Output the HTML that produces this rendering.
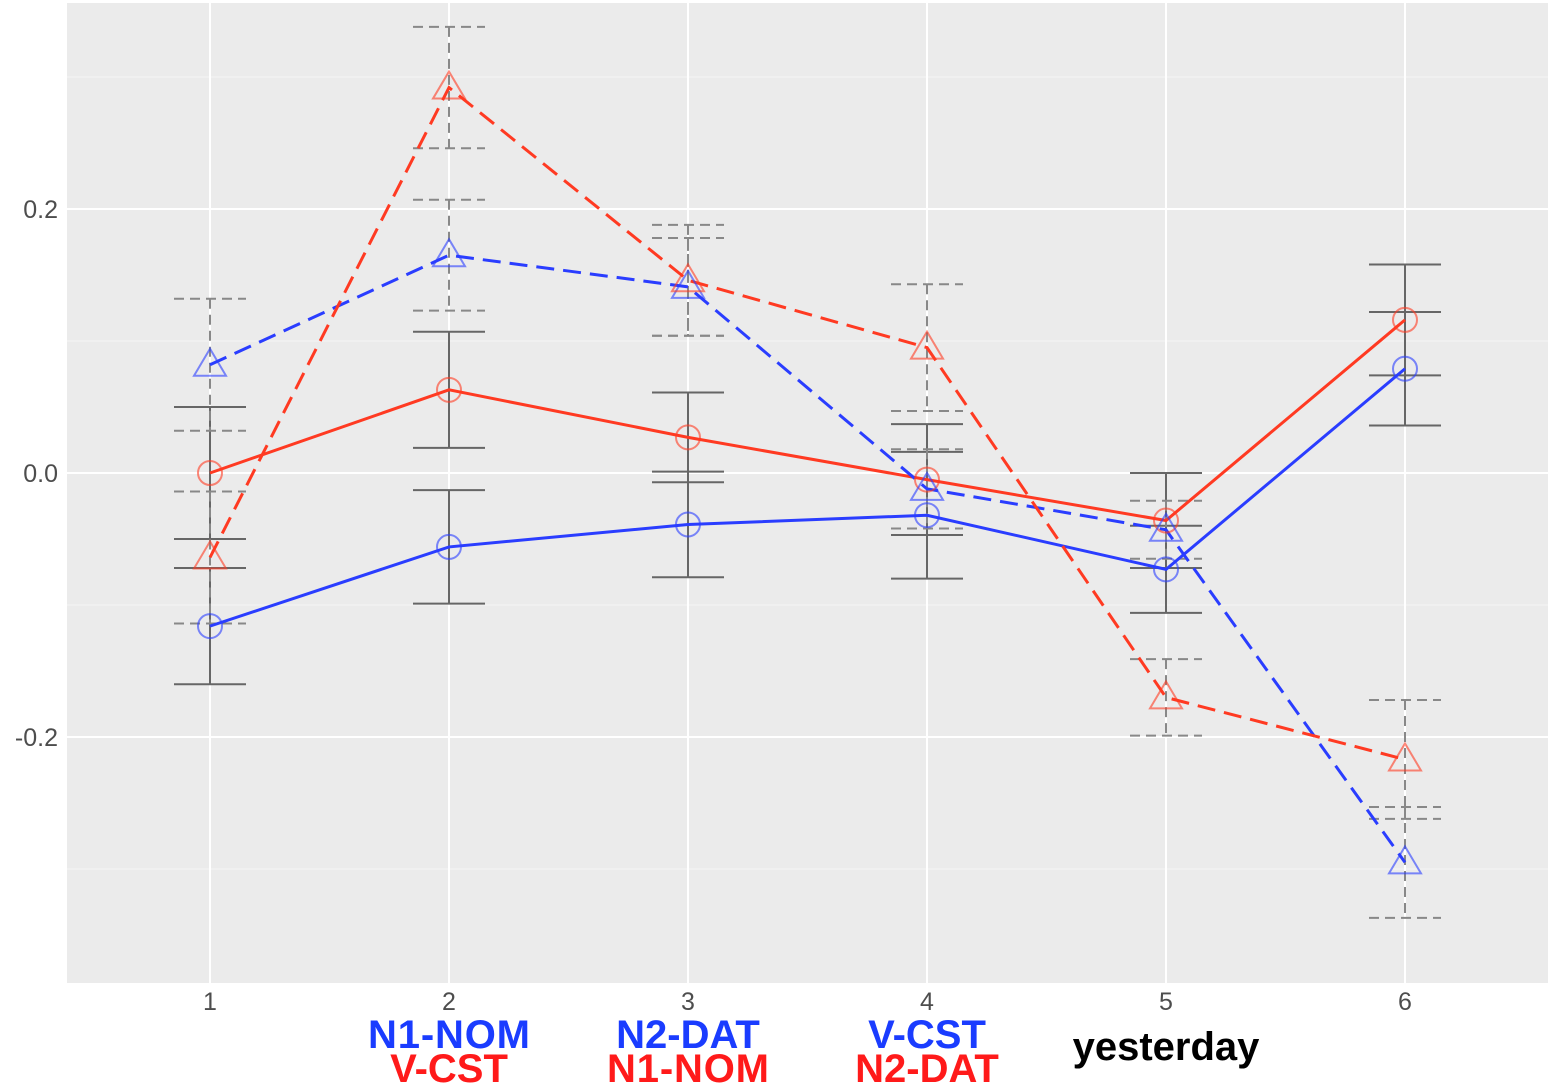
<!DOCTYPE html>
<html><head><meta charset="utf-8"><style>
body{margin:0;background:#fff;width:1555px;height:1089px;overflow:hidden}
svg{display:block}
</style></head><body>
<svg id="chart" width="1555" height="1089" xmlns="http://www.w3.org/2000/svg">
<rect x="67" y="3" width="1481" height="980" fill="#EBEBEB"/>
<g id="grid"></g><g id="errs"></g><g id="lines"></g><g id="pts"></g><g id="axes"></g>
<g font-family="Liberation Sans, sans-serif" font-weight="bold" font-size="40" text-anchor="middle">
<text x="449" y="1048" fill="#1a3cff" textLength="162">N1-NOM</text>
<text x="449" y="1082" fill="#ff1a1a">V-CST</text>
<text x="688" y="1048" fill="#1a3cff">N2-DAT</text>
<text x="688" y="1082" fill="#ff1a1a" textLength="162">N1-NOM</text>
<text x="927" y="1048" fill="#1a3cff">V-CST</text>
<text x="927" y="1082" fill="#ff1a1a">N2-DAT</text>
<text x="1166" y="1060" fill="#000">yesterday</text>
</g>
</svg>
<script>
const categories=[1,2,3,4,5,6];
const yTicks=[-0.2,0.0,0.2];
const yTickLabels=["-0.2","0.0","0.2"];
const redSolid=[0.0,0.063,0.027,-0.005,-0.036,0.116];
const redSolidErr=[0.05,0.044,0.034,0.042,0.036,0.042];
const blueSolid=[-0.116,-0.056,-0.039,-0.032,-0.073,0.079];
const blueSolidErr=[0.044,0.043,0.04,0.048,0.033,0.043];
const blueDashed=[0.082,0.165,0.141,-0.012,-0.043,-0.295];
const blueDashedErr=[0.05,0.042,0.037,0.03,0.022,0.042];
const redDashed=[-0.064,0.292,0.146,0.095,-0.17,-0.217];
const redDashedErr=[0.05,0.046,0.042,0.048,0.029,0.045];

const NS="http://www.w3.org/2000/svg";
const X=v=>210+(v-1)*239;
const Y=v=>473-v*1320;
function mk(p,tag,attrs){const e=document.createElementNS(NS,tag);for(const k in attrs)e.setAttribute(k,attrs[k]);document.getElementById(p).appendChild(e);return e;}
function mk_in(g,tag,attrs){const e=document.createElementNS(NS,tag);for(const k in attrs)e.setAttribute(k,attrs[k]);g.appendChild(e);return e;}
[-0.3,-0.1,0.1,0.3].forEach(v=>{const e=mk('grid','line',{x1:67,x2:1548,y1:Y(v),y2:Y(v),stroke:'#F5F5F5','stroke-width':1});

});
yTicks.forEach((v,i)=>{const e=mk('grid','line',{x1:67,x2:1548,y1:Y(v),y2:Y(v),stroke:'#fff','stroke-width':2});


const t=mk('axes','text',{x:58,y:Y(v)+9,'text-anchor':'end','font-family':'Liberation Sans, sans-serif','font-size':25,fill:'#4d4d4d'});
t.textContent=yTickLabels[i];

});
categories.forEach(c=>{const e=mk('grid','line',{x1:X(c),x2:X(c),y1:3,y2:983,stroke:'#fff','stroke-width':2});


const t=mk('axes','text',{x:X(c),y:1010,'text-anchor':'middle','font-family':'Liberation Sans, sans-serif','font-size':25,fill:'#4d4d4d'});
t.textContent=String(c);

});
function series(name,vals,errs,color,dashed,shape){
  const dash=dashed?'18,9':'none';
  categories.forEach((c,i)=>{const x=X(c),y1=Y(vals[i]+errs[i]),y2=Y(vals[i]-errs[i]);
    const g=mk('errs','g',{stroke:dashed?'#888':'#666','stroke-width':2,'stroke-dasharray':dashed?'10,6':'none',fill:'none'});
    
    
    mk_in(g,'line',{x1:x,x2:x,y1:y1,y2:y2});mk_in(g,'line',{x1:x-36,x2:x+36,y1:y1,y2:y1});mk_in(g,'line',{x1:x-36,x2:x+36,y1:y2,y2:y2});});
  const pl=mk('lines','polyline',{points:categories.map((c,i)=>X(c)+','+Y(vals[i])).join(' '),fill:'none',stroke:color,'stroke-width':3,'stroke-dasharray':dash});
  
  
  categories.forEach((c,i)=>{const x=X(c),y=Y(vals[i]);let e;
    if(shape==='circle')e=mk('pts','circle',{cx:x,cy:y,r:12,fill:'none',stroke:color,'stroke-opacity':0.6,'stroke-width':2});
    else e=mk('pts','polygon',{points:`${x},${y-16} ${x-16},${y+11} ${x+16},${y+11}`,fill:'none',stroke:color,'stroke-opacity':0.6,'stroke-width':2});
    
    });
}
series('red-solid',redSolid,redSolidErr,'#ff3a22',false,'circle');
series('blue-solid',blueSolid,blueSolidErr,'#2a3dff',false,'circle');
series('blue-dashed',blueDashed,blueDashedErr,'#2a3dff',true,'tri');
series('red-dashed',redDashed,redDashedErr,'#ff3a22',true,'tri');
</script>
</body></html>
